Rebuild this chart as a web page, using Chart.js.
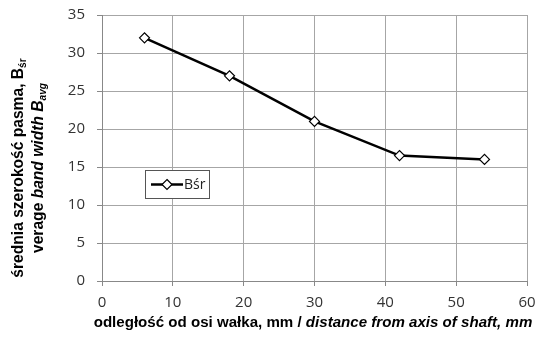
<!DOCTYPE html>
<html>
<head>
<meta charset="utf-8">
<script src="https://cdn.jsdelivr.net/npm/chart.js@4.4.0/dist/chart.umd.min.js"></script>
<style>
  html, body { margin: 0; padding: 0; background: #fff; }
  #wrap { width: 536px; height: 338px; }
</style>
</head>
<body>
<div id="wrap"><canvas id="chart"></canvas></div>
<script>
const distances = [6, 18, 30, 42, 54];
const bandWidth = [32, 27, 21, 16.5, 16];
const seriesName = "Bśr";
const xTicks = [0, 10, 20, 30, 40, 50, 60];
const yTicks = [0, 5, 10, 15, 20, 25, 30, 35];

const TITLE_FONT = "Liberation Sans";
const TICK_FONT = "Open Sans";

// draws text pieces with mixed styles left to right, returns total width
function drawRuns(ctx, runs, x, y, size, measureOnly) {
  let cx = x;
  runs.forEach((r) => {
    ctx.font = (r.italic ? "italic " : "") + "bold " + (r.sub ? size * 0.65 : size) + "px '" + TITLE_FONT + "'";
    if (!measureOnly) ctx.fillText(r.t, cx, y + (r.sub ? size * 0.3 : 0));
    cx += ctx.measureText(r.t).width;
  });
  return cx - x;
}

const titlesPlugin = {
  id: "titles",
  afterDraw(chart) {
    const ctx = chart.ctx;
    const area = chart.chartArea;
    ctx.save();
    ctx.fillStyle = "#000";
    ctx.textBaseline = "middle";

    // x axis title
    const xRuns = [
      { t: "odległość od osi wałka, mm / " },
      { t: "distance from axis of shaft, mm", italic: true },
    ];
    const xs = 15.1;
    const xw = drawRuns(ctx, xRuns, 0, 0, xs, true);
    drawRuns(ctx, xRuns, 313 - xw / 2, 323, xs);

    // y axis title, two rotated lines
    const line1 = [{ t: "średnia szerokość pasma, B" }, { t: "śr", sub: true }];
    const line2 = [
      { t: "verage " },
      { t: "band width B", italic: true },
      { t: "avg", italic: true, sub: true },
    ];
    const cy = 168, ys = 15.6;
    [[line1, 19], [line2, 39]].forEach(([runs, cx]) => {
      ctx.save();
      ctx.translate(cx, cy);
      ctx.rotate(-Math.PI / 2);
      const w = drawRuns(ctx, runs, 0, 0, ys, true);
      drawRuns(ctx, runs, -w / 2, 0, ys);
      ctx.restore();
    });

    // legend box inside the plot
    const lx = area.left + 43, ly = area.top + 155;
    ctx.strokeStyle = "#555";
    ctx.lineWidth = 1;
    ctx.fillStyle = "#fff";
    ctx.fillRect(lx, ly, 64, 28);
    ctx.strokeRect(lx + 0.5, ly + 0.5, 64, 28);
    ctx.strokeStyle = "#000";
    ctx.lineWidth = 2.5;
    ctx.beginPath();
    ctx.moveTo(lx + 6, ly + 14.5);
    ctx.lineTo(lx + 38, ly + 14.5);
    ctx.stroke();
    ctx.lineWidth = 1.2;
    ctx.fillStyle = "#fff";
    ctx.beginPath();
    const mx = lx + 22, my = ly + 14.5, r = 5;
    ctx.moveTo(mx, my - r);
    ctx.lineTo(mx + r, my);
    ctx.lineTo(mx, my + r);
    ctx.lineTo(mx - r, my);
    ctx.closePath();
    ctx.fill();
    ctx.stroke();
    ctx.fillStyle = "#222";
    ctx.font = "14px '" + TICK_FONT + "'";
    ctx.fillText(seriesName, lx + 39, ly + 15);
    ctx.restore();
  },
};

new Chart(document.getElementById("chart"), {
  type: "line",
  data: {
    datasets: [
      {
        label: seriesName,
        data: distances.map((d, i) => ({ x: d, y: bandWidth[i] })),
        borderColor: "#000",
        borderWidth: 2.5,
        pointStyle: "rectRot",
        pointRadius: 5,
        pointBackgroundColor: "#fff",
        pointBorderColor: "#000",
        pointBorderWidth: 1.2,
        tension: 0,
      },
    ],
  },
  options: {
    responsive: true,
    maintainAspectRatio: false,
    animation: false,
    layout: { padding: { top: 15, right: 9, left: 0, bottom: 0 } },
    plugins: { legend: { display: false }, tooltip: { enabled: false } },
    scales: {
      x: {
        type: "linear",
        min: 0,
        max: 60,
        afterBuildTicks: (s) => { s.ticks = xTicks.map((v) => ({ value: v })); },
        afterFit: (s) => { s.height = 57; s.paddingLeft = 0; s.paddingRight = 0; },
        grid: { color: "#a6a6a6", lineWidth: 1, tickLength: 5, tickColor: "#888" },
        border: { color: "#888" },
        ticks: { color: "#333", padding: 8, font: { family: TICK_FONT, size: 15 } },
      },
      y: {
        min: 0,
        max: 35,
        afterBuildTicks: (s) => { s.ticks = yTicks.map((v) => ({ value: v })); },
        afterFit: (s) => { s.width = 102; s.paddingTop = 0; s.paddingBottom = 0; },
        grid: { color: "#a6a6a6", lineWidth: 1, tickLength: 5, tickColor: "#888" },
        border: { color: "#888" },
        ticks: { color: "#333", padding: 12, font: { family: TICK_FONT, size: 15 } },
      },
    },
  },
  plugins: [titlesPlugin],
});
</script>
</body>
</html>
